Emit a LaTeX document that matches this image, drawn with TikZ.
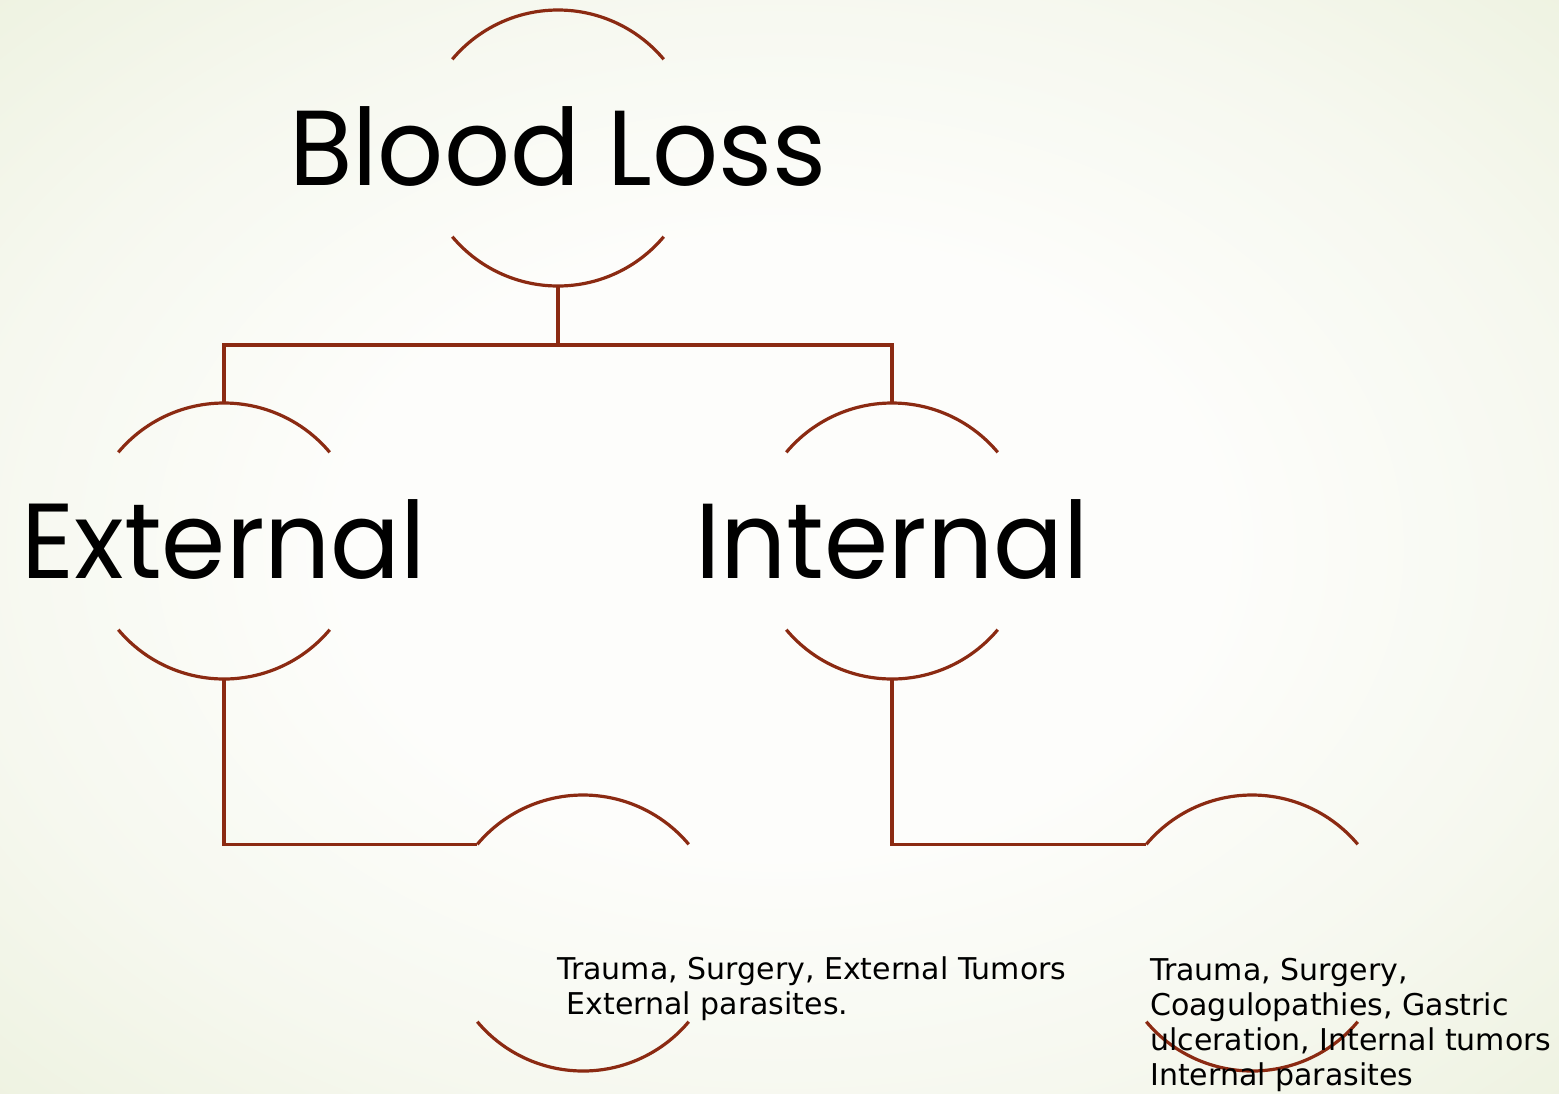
\documentclass[tikz,border=0pt]{standalone}
\usepackage{fontspec}
\newfontfamily\bigfont{Poppins}
\newfontfamily\smallfont{DejaVu Sans}
\definecolor{linec}{HTML}{8B2A12}
\definecolor{bgA}{HTML}{FDFDFB}
\definecolor{bgB}{HTML}{F6F8EF}
\definecolor{bgC}{HTML}{EEF2E1}
\definecolor{bgD}{HTML}{E6ECD3}
\pgfdeclareradialshading{bgshade}{\pgfpoint{0bp}{0bp}}{color(0bp)=(bgA); color(14bp)=(bgA); color(26bp)=(bgB); color(36bp)=(bgC); color(50bp)=(bgD)}
\begin{document}
\begin{tikzpicture}[x=0.75pt,y=0.75pt,
  ring/.style={circle,inner sep=0pt,outer sep=0pt,minimum size=207pt},
  conn/.style={draw=linec,line width=2.4pt},
  arcline/.style={draw=linec,line width=2.4pt},
  bigtext/.style={font=\bigfont\fontsize{80}{90}\selectfont,inner sep=0pt,anchor=base,xscale=0.97},
  smalltext/.style={font=\smallfont\fontsize{22.5}{26.25}\selectfont,inner sep=0pt,anchor=base west,align=left}]
\useasboundingbox (0,0) rectangle (1559,-1093);
\shade[shading=bgshade] (0,0) rectangle (1559,-1093);
% ring nodes
\node[ring] (c1) at (558,-148) {};
\node[ring] (c2) at (224,-541) {};
\node[ring] (c3) at (892,-541) {};
\node[ring] (c4) at (583,-933) {};
\node[ring] (c5) at (1252,-933) {};
% arcs
\foreach \n in {c1,c2,c3,c4,c5}{
  \draw[arcline] (\n.140) arc[start angle=140,end angle=40,radius=138];
  \draw[arcline] (\n.220) arc[start angle=220,end angle=320,radius=138];
}
% texts
\node[bigtext] (t1) at (558,-185) {Blood Loss};
\node[bigtext] (t2) at (224,-578) {External};
\node[bigtext] (t3) at (892,-578) {Internal};
\node[smalltext] (t4) at (557,-1014) {Trauma, Surgery, External Tumors\\\ External parasites.};
\node[smalltext] (t5) at (1150,-1085) {Trauma, Surgery,\\Coagulopathies, Gastric\\ulceration, Internal tumors\\Internal parasites};
% connectors
\coordinate (j1) at (558,-345);
\draw[conn] (c1.south) -- (j1);
\draw[conn] (c2.north) |- (j1) -| (c3.north);
\draw[conn] (c2.south) |- (c4.220 |- c4.140);
\draw[conn] (c3.south) |- (c5.220 |- c5.140);
\end{tikzpicture}
\end{document}
